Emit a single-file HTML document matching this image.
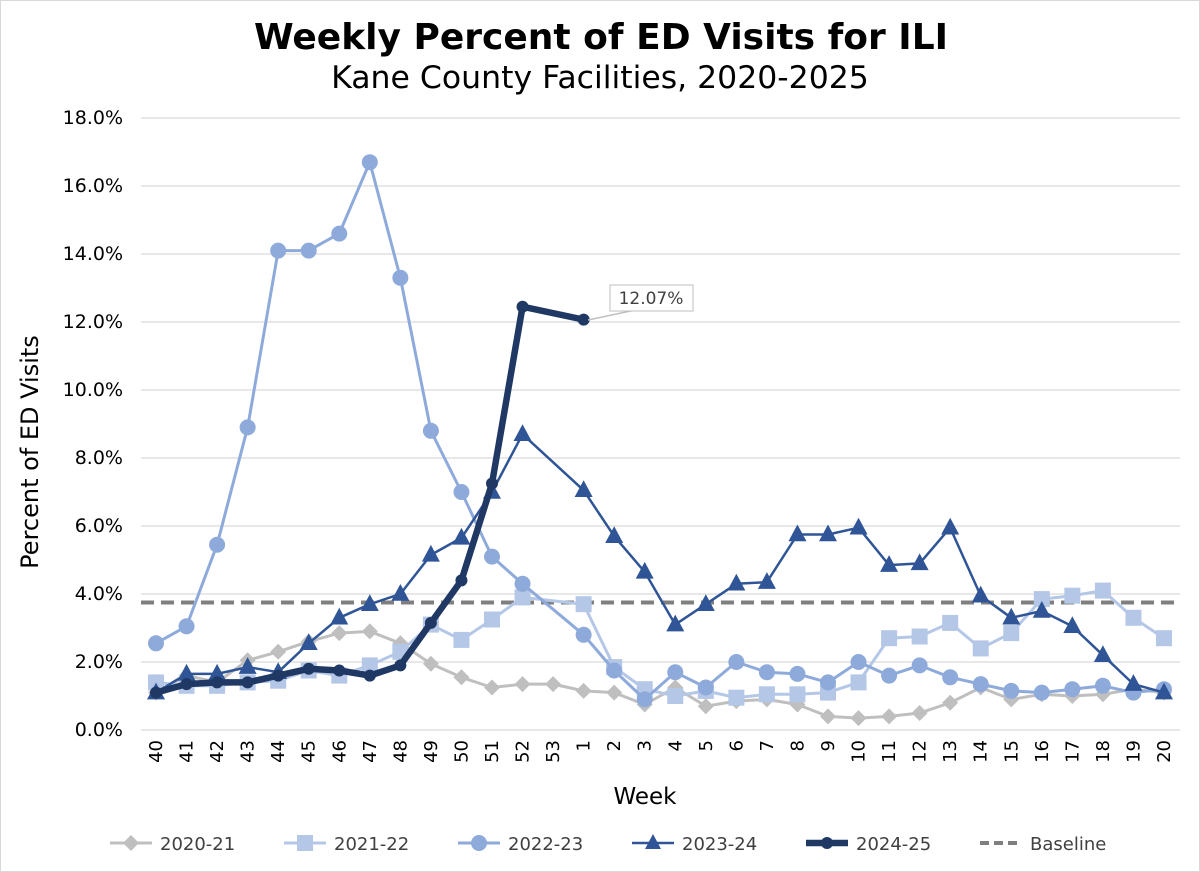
<!DOCTYPE html>
<html><head><meta charset="utf-8"><style>
body{margin:0;background:#fff;}
svg{display:block;font-family:"DejaVu Sans","Liberation Sans",sans-serif;}
</style></head><body>
<svg id="c" width="1200" height="872" viewBox="0 0 1200 872" xmlns="http://www.w3.org/2000/svg">
<rect x="0.5" y="0.5" width="1199" height="871" fill="#fff" stroke="#d9d9d9"/>
<text x="601" y="49" text-anchor="middle" font-size="36" font-weight="bold" fill="#000">Weekly Percent of ED Visits for ILI</text>
<text x="600" y="88" text-anchor="middle" font-size="31.5" fill="#000">Kane County Facilities, 2020-2025</text>
<text transform="translate(38,452) rotate(-90)" text-anchor="middle" font-size="24" fill="#000">Percent of ED Visits</text>
<text x="645" y="804" text-anchor="middle" font-size="23" fill="#000">Week</text>
<g id="g"></g>
</svg>
<script>
const g=document.getElementById('g');
let h='';
const X=i=>156+i*30.545, Y=v=>730-v*34;
for(let k=0;k<=9;k++){const y=Y(k*2);h+=`<line x1="141" x2="1180" y1="${y}" y2="${y}" stroke="#d9d9d9" stroke-width="1.3"/>`;
h+=`<text x="123" y="${y+6}" text-anchor="end" font-size="19" fill="#000">${(k*2).toFixed(1)}%</text>`;}
const weeks=[];for(let w=40;w<=53;w++)weeks.push(w);for(let w=1;w<=20;w++)weeks.push(w);
weeks.forEach((w,i)=>{h+=`<text transform="translate(${X(i)+6},${740}) rotate(-90)" text-anchor="end" font-size="18" fill="#000">${w}</text>`;});
h+=`<line x1="141" x2="1180" y1="${Y(3.75)}" y2="${Y(3.75)}" stroke="#7f7f7f" stroke-width="4" stroke-dasharray="13,7"/>`;
const N=null;
const s20=[1.1,1.6,1.4,2.05,2.3,2.6,2.85,2.9,2.55,1.95,1.55,1.25,1.35,1.35,1.15,1.1,0.75,1.25,0.7,0.85,0.9,0.75,0.4,0.35,0.4,0.5,0.8,1.25,0.9,1.05,1.0,1.05,1.2,1.1];
const s21=[1.4,1.3,1.3,1.4,1.45,1.75,1.6,1.9,2.3,3.1,2.65,3.25,3.9,N,3.7,1.85,1.2,1.0,1.15,0.95,1.05,1.05,1.1,1.4,2.7,2.75,3.15,2.4,2.85,3.85,3.95,4.1,3.3,2.7];
const s22=[2.55,3.05,5.45,8.9,14.1,14.1,14.6,16.7,13.3,8.8,7.0,5.1,4.3,N,2.8,1.75,0.9,1.7,1.25,2.0,1.7,1.65,1.4,2.0,1.6,1.9,1.55,1.35,1.15,1.1,1.2,1.3,1.1,1.2];
const s23=[1.1,1.65,1.65,1.85,1.7,2.55,3.3,3.7,4.0,5.15,5.65,7.0,8.7,N,7.05,5.7,4.65,3.1,3.7,4.3,4.35,5.75,5.75,5.95,4.85,4.9,5.95,3.95,3.3,3.5,3.05,2.2,1.35,1.1];
const s24=[1.1,1.35,1.4,1.4,1.6,1.8,1.75,1.6,1.9,3.15,4.4,7.25,12.45,N,12.07];
function mk(t,x,y,c,r){
 if(t=='d')return `<polygon points="${x},${y-r} ${x+r},${y} ${x},${y+r} ${x-r},${y}" fill="${c}"/>`;
 if(t=='s')return `<rect x="${x-r}" y="${y-r}" width="${2*r}" height="${2*r}" fill="${c}"/>`;
 if(t=='c')return `<circle cx="${x}" cy="${y}" r="${r}" fill="${c}"/>`;
 if(t=='t')return `<polygon points="${x},${y-r-1} ${x+r},${y+r*0.75} ${x-r},${y+r*0.75}" fill="${c}"/>`;
}
function ser(d,c,w,t,r){
 const p=[];d.forEach((v,i)=>{if(v!=null)p.push([X(i),Y(v)]);});
 h+=`<polyline points="${p.map(q=>q.join(',')).join(' ')}" fill="none" stroke="${c}" stroke-width="${w}" stroke-linejoin="round"/>`;
 p.forEach(q=>h+=mk(t,q[0],q[1],c,r));
}
ser(s20,'#bfbfbf',3,'d',8);
ser(s21,'#b4c7e7',3,'s',8);
ser(s22,'#8eaadb',3,'c',8);
ser(s23,'#2f5597',2.5,'t',9);
ser(s24,'#1f3864',6.5,'c',6);
h+=`<line x1="588" y1="320" x2="640" y2="309" stroke="#bfbfbf" stroke-width="1.5"/>`;
h+=`<rect x="610" y="285" width="83" height="26" fill="#fff" stroke="#bfbfbf"/>`;
h+=`<text x="651" y="304" text-anchor="middle" font-size="17" fill="#404040">12.07%</text>`;
const L=[['2020-21','#bfbfbf','d',3,110],['2021-22','#b4c7e7','s',3,284],['2022-23','#8eaadb','c',3,458],['2023-24','#2f5597','t',2.5,632],['2024-25','#1f3864','c',6.5,806]];
L.forEach(([n,c,t,w,x])=>{h+=`<line x1="${x}" x2="${x+42}" y1="843" y2="843" stroke="${c}" stroke-width="${w}"/>`+mk(t,x+21,843,c,t=='c'&&w>5?6:8)+`<text x="${x+50}" y="850" font-size="18" fill="#404040">${n}</text>`;});
h+=`<line x1="980" x2="1022" y1="843" y2="843" stroke="#7f7f7f" stroke-width="4" stroke-dasharray="9,5"/><text x="1030" y="850" font-size="18" fill="#404040">Baseline</text>`;
g.innerHTML=h;
</script>
</body></html>
